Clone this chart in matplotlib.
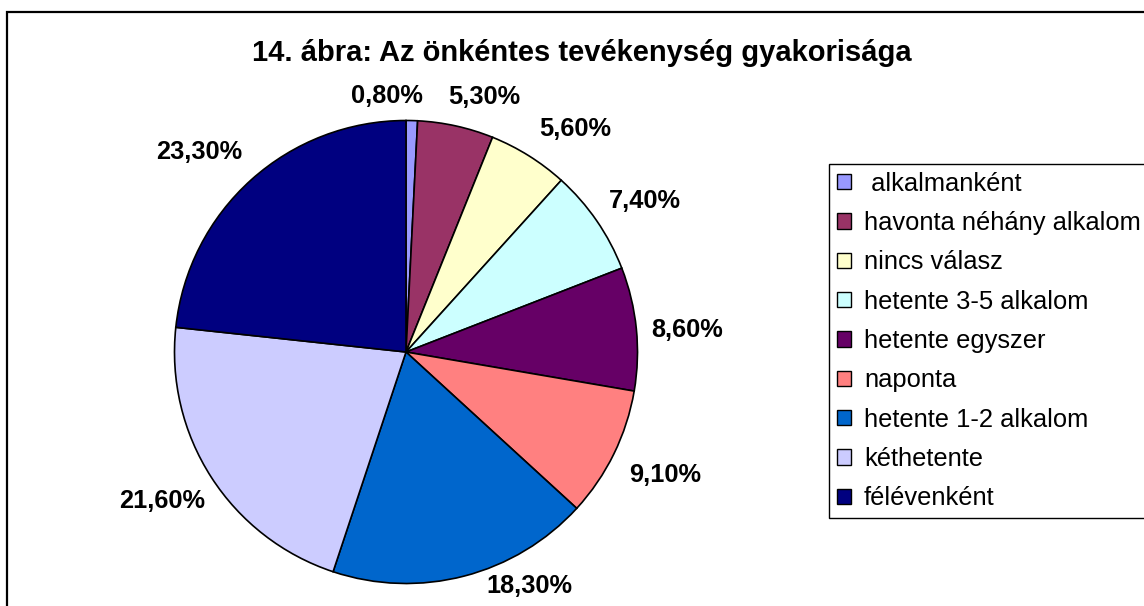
import numpy as np
import matplotlib
matplotlib.use("Agg")
import matplotlib.pyplot as plt
from matplotlib.patches import Patch, Rectangle

plt.rcParams["font.family"] = ["Liberation Sans", "DejaVu Sans"]

# Data
title = "14. ábra: Az önkéntes tevékenység gyakorisága"
categories = [
    " alkalmanként",
    "havonta néhány alkalom",
    "nincs válasz",
    "hetente 3-5 alkalom",
    "hetente egyszer",
    "naponta",
    "hetente 1-2 alkalom",
    "kéthetente",
    "félévenként",
]
shares = [0.8, 5.3, 5.6, 7.4, 8.6, 9.1, 18.3, 21.6, 23.3]
colors = ["#9999FF", "#993366", "#FFFFCC", "#CCFFFF", "#660066",
          "#FF8080", "#0066CC", "#CCCCFF", "#000080"]

# Layout (pixels, y measured upward)
W, H = 1144, 606
CENTER = (406, H - 352)
RADIUS = 231.5
# small hand nudges so the labels sit where Excel put them
label_nudge = [(-26, 3), (17, 8), (19, 9), (6, 8), (0, -2),
               (5, -9), (52, 14), (-6, -10), (-18, 12)]


def fmt_pct(v):
    return f"{v:.2f}%".replace(".", ",")


def plot_pie():
    fig = plt.figure(figsize=(W / 100, H / 100), dpi=100)
    ax = fig.add_axes([0, 0, 1, 1])

    wedges, _ = ax.pie(
        shares,
        colors=colors,
        startangle=90,
        counterclock=False,
        center=CENTER,
        radius=RADIUS,
        wedgeprops=dict(edgecolor="black", linewidth=1.2),
    )

    ax.set_xlim(0, W)
    ax.set_ylim(0, H)
    ax.set_aspect("equal")
    ax.axis("off")

    # outer chart border (runs off the right and bottom edges)
    ax.add_patch(Rectangle((7, -20), W + 50, H - 12 + 20, fill=False,
                           edgecolor="black", linewidth=1.6, clip_on=False))

    ax.text(582, H - 61, title, ha="center", va="baseline",
            fontsize=21, fontweight="bold")

    # percentage labels outside the slices
    w_box, h_box, gap = 74, 17, 14.5
    for wedge, v, (nx, ny) in zip(wedges, shares, label_nudge):
        theta = np.deg2rad((wedge.theta1 + wedge.theta2) / 2)
        c, s = np.cos(theta), np.sin(theta)
        x = CENTER[0] + (RADIUS + gap) * c + w_box / 2 * c + nx
        y = CENTER[1] + (RADIUS + gap) * s + h_box / 2 * s + ny
        ax.text(x, y - 8.7, fmt_pct(v), ha="center", va="baseline",
                fontsize=18.3, fontweight="bold")

    handles = [Patch(facecolor=col, edgecolor="black", linewidth=1.0)
               for col in colors]
    leg = fig.legend(
        handles, categories,
        loc="upper left",
        bbox_to_anchor=(829 / W, 1 - 164 / H),
        borderaxespad=0,
        fontsize=18.4,
        frameon=True,
        fancybox=False,
        borderpad=0.3,
        labelspacing=0.6,
        handlelength=0.57,
        handleheight=0.55,
        handletextpad=0.5,
    )
    leg.get_frame().set_edgecolor("black")
    leg.get_frame().set_linewidth(1.0)
    leg.get_frame().set_alpha(1)

    fig.savefig("out.png", dpi=100)


if __name__ == "__main__":
    plot_pie()
